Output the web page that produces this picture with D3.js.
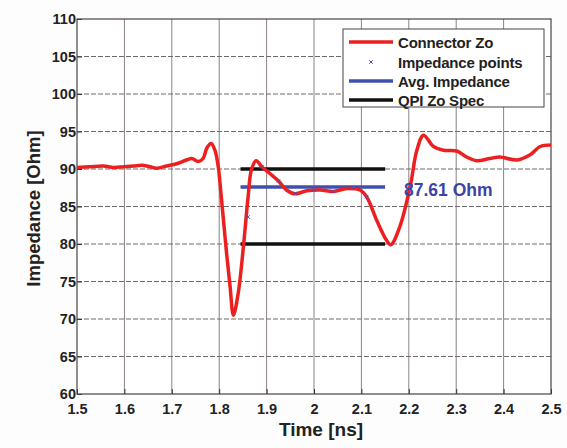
<!DOCTYPE html>
<html>
<head>
<meta charset="utf-8">
<script src="https://cdn.jsdelivr.net/npm/d3@7/dist/d3.min.js"></script>
<style>
  html, body { margin: 0; padding: 0; background: #fdfdfd; }
  svg { display: block; }
  text { font-family: Arial, "Liberation Sans", sans-serif; }
</style>
</head>
<body>
<svg id="chart" width="567" height="448"></svg>
<script>
// Connector impedance profile (TDR), time in ns, impedance in Ohm
const timeNs = [1.500, 1.527, 1.556, 1.577, 1.598, 1.619, 1.637, 1.654, 1.668, 1.689,
  1.710, 1.731, 1.742, 1.756, 1.766, 1.774, 1.783, 1.791, 1.798, 1.803,
  1.809, 1.816, 1.823, 1.830, 1.840, 1.851, 1.861, 1.868, 1.878, 1.890,
  1.907, 1.925, 1.942, 1.960, 1.985, 2.013, 2.041, 2.069, 2.097, 2.111,
  2.132, 2.153, 2.162, 2.181, 2.203, 2.217, 2.231, 2.252, 2.273, 2.301,
  2.322, 2.343, 2.371, 2.392, 2.428, 2.456, 2.477, 2.500];
const zoOhm = [90.2, 90.3, 90.4, 90.2, 90.3, 90.4, 90.5, 90.3, 90.1, 90.4,
  90.7, 91.2, 91.4, 91.0, 91.4, 92.8, 93.4, 92.5, 90.3, 87.2,
  83.2, 78.5, 74.3, 70.5, 73.4, 79.6, 86.3, 89.9, 91.1, 90.3,
  89.4, 88.4, 87.2, 86.7, 87.1, 87.2, 87.0, 87.4, 87.2, 86.3,
  83.2, 80.5, 79.9, 82.3, 87.7, 92.5, 94.5, 93.0, 92.5, 92.4,
  91.6, 91.1, 91.4, 91.6, 91.2, 91.9, 93.0, 93.2];

// Sampled impedance points used for the average
const pointTime = [1.861, 1.890, 1.925, 1.960, 2.000, 2.040, 2.080, 2.111];
const pointZo = [83.6, 90.3, 88.4, 86.7, 87.2, 87.0, 87.4, 86.3];

const avgImpedance = 87.61;
const specLimits = [80, 90];
const specWindow = [1.845, 2.15];

const xTicks = [1.5, 1.6, 1.7, 1.8, 1.9, 2, 2.1, 2.2, 2.3, 2.4, 2.5];
const yTicks = [60, 65, 70, 75, 80, 85, 90, 95, 100, 105, 110];

const legendLabels = ["Connector Zo", "Impedance points", "Avg. Impedance", "QPI Zo Spec"];

const svg = d3.select("#chart");
const pLeft = 77, pRight = 551, pTop = 19, pBottom = 394;

const x = d3.scaleLinear().domain([1.5, 2.5]).range([pLeft, pRight]);
const y = d3.scaleLinear().domain([60, 110]).range([pBottom, pTop]);

// plot background
svg.append("rect").attr("x", pLeft).attr("y", pTop)
  .attr("width", pRight - pLeft).attr("height", pBottom - pTop).attr("fill", "#ffffff");

// grid
const grid = svg.append("g");
grid.selectAll("line.v").data(xTicks.slice(1, -1)).join("line")
  .attr("x1", d => x(d)).attr("x2", d => x(d))
  .attr("y1", pTop).attr("y2", pBottom)
  .attr("stroke", "#8c8282").attr("stroke-width", 1);
grid.selectAll("line.h").data(yTicks.slice(1, -1)).join("line")
  .attr("x1", pLeft).attr("x2", pRight)
  .attr("y1", d => y(d)).attr("y2", d => y(d))
  .attr("stroke", "#6f6a6a").attr("stroke-width", 1)
  .attr("stroke-dasharray", "5,2");

// axes (ticks drawn inward)
const xAxis = d3.axisBottom(x).tickValues(xTicks).tickSize(-5).tickPadding(10)
  .tickFormat(d3.format("~g"));
const yAxis = d3.axisLeft(y).tickValues(yTicks).tickSize(-5).tickPadding(1);

const gx = svg.append("g").attr("transform", `translate(0,${pBottom})`).call(xAxis);
const gy = svg.append("g").attr("transform", `translate(${pLeft},0)`).call(yAxis);
[gx, gy].forEach(g => {
  g.select(".domain").remove();
  g.selectAll(".tick line").attr("stroke", "#333");
  g.selectAll(".tick text").attr("font-size", 14.5).attr("font-weight", "bold")
    .attr("fill", "#222");
});
gy.selectAll(".tick text").attr("dx", 0);

// frame
svg.append("rect").attr("x", pLeft).attr("y", pTop)
  .attr("width", pRight - pLeft).attr("height", pBottom - pTop)
  .attr("fill", "none").attr("stroke", "#4a4444").attr("stroke-width", 1.2);

// spec limits and average
const specG = svg.append("g");
specG.selectAll("line").data(specLimits).join("line")
  .attr("x1", x(specWindow[0])).attr("x2", x(specWindow[1]))
  .attr("y1", d => y(d)).attr("y2", d => y(d))
  .attr("stroke", "#111").attr("stroke-width", 3.5);

svg.append("line")
  .attr("x1", x(specWindow[0])).attr("x2", x(specWindow[1]))
  .attr("y1", y(avgImpedance)).attr("y2", y(avgImpedance))
  .attr("stroke", "#3f4fb0").attr("stroke-width", 3.5);

// impedance curve
const line = d3.line().x((d, i) => x(timeNs[i])).y(d => y(d)).curve(d3.curveCatmullRom.alpha(0.5));
svg.append("path").datum(zoOhm).attr("d", line)
  .attr("fill", "none").attr("stroke", "#ec2020").attr("stroke-width", 3.5)
  .attr("stroke-linejoin", "round");

// impedance sample markers
const mk = svg.append("g");
pointTime.forEach((t, i) => {
  const cx = x(t), cy = y(pointZo[i]), s = 1.8;
  mk.append("path").attr("d", `M${cx - s},${cy - s}L${cx + s},${cy + s}M${cx - s},${cy + s}L${cx + s},${cy - s}`)
    .attr("stroke", "#5050c0").attr("stroke-width", 1);
});

// average value label
svg.append("text").attr("x", 404).attr("y", y(avgImpedance) + 9)
  .attr("font-size", 17.5).attr("font-weight", "bold").attr("fill", "#3c44a8")
  .text(avgImpedance.toFixed(2) + " Ohm");

// legend
const lg = svg.append("g");
lg.append("rect").attr("x", 343).attr("y", 29).attr("width", 201).attr("height", 78)
  .attr("fill", "#ffffff").attr("stroke", "#444").attr("stroke-width", 1);
const rowsY = [42, 62, 81, 100];
const rowColor = ["#ec2020", "#5050c0", "#3f4fb0", "#111"];
legendLabels.forEach((lab, i) => {
  const yy = rowsY[i];
  if (i === 1) {
    const cx = 371, s = 1.8;
    lg.append("path").attr("d", `M${cx - s},${yy - s}L${cx + s},${yy + s}M${cx - s},${yy + s}L${cx + s},${yy - s}`)
      .attr("stroke", rowColor[i]).attr("stroke-width", 1);
  } else {
    lg.append("line").attr("x1", 349).attr("x2", 393).attr("y1", yy).attr("y2", yy)
      .attr("stroke", rowColor[i]).attr("stroke-width", 3.5);
  }
  lg.append("text").attr("x", 398).attr("y", yy + 5.5)
    .attr("font-size", 15).attr("font-weight", "bold").attr("fill", "#222")
    .attr("letter-spacing", -0.2).text(lab);
});

// axis titles
svg.append("text").attr("x", (pLeft + pRight) / 2 + 7).attr("y", 436)
  .attr("text-anchor", "middle").attr("font-size", 19).attr("font-weight", "bold")
  .attr("fill", "#222").text("Time [ns]");
svg.append("text").attr("transform", `translate(40,${(pTop + pBottom) / 2 + 2}) rotate(-90)`)
  .attr("text-anchor", "middle").attr("font-size", 18.5).attr("font-weight", "bold")
  .attr("fill", "#222").text("Impedance [Ohm]");
</script>
</body>
</html>
